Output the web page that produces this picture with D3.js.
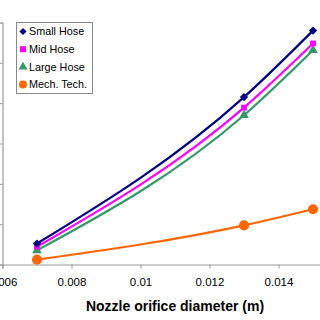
<!DOCTYPE html>
<html><head><meta charset="utf-8">
<script src="https://cdn.jsdelivr.net/npm/d3@7"></script>
<style>html,body{margin:0;padding:0;background:#fff;overflow:hidden}svg{display:block}</style>
</head><body>
<script>
const diameters = [0.007, 0.013, 0.015];
const seriesNames = ["Small Hose", "Mid Hose", "Large Hose", "Mech. Tech."];
const smallHose = [0.52, 4.15, 5.80];
const midHose = [0.44, 3.89, 5.48];
const largeHose = [0.35, 3.70, 5.31];
const mechTech = [0.12, 0.97, 1.37];
const xTicks = [0.006, 0.008, 0.01, 0.012, 0.014];
const yTicks = [0, 1, 2, 3, 4, 5, 6];
const colors = ["#000080", "#ff00ff", "#339966", "#ff6600"];
const symbols = [d3.symbolSquare, d3.symbolSquare, d3.symbolTriangle, d3.symbolCircle];
const rotations = [45, 0, 0, 0];
const symSizes = [34, 34, 40, 80];
const legSizes = [26, 36, 36, 50];
const allValues = [smallHose, midHose, largeHose, mechTech];

const W = 320, H = 320;
const svg = d3.select("body").append("svg").attr("width", W).attr("height", H);
const x = d3.scaleLinear().domain([0.006, 0.016]).range([2.5, 347.5]);
const y = d3.scaleLinear().domain([0, 6]).range([264.5, 22.5]);

// y axis
const yAxis = svg.append("g").attr("transform", `translate(${x(0.006)},0)`)
  .call(d3.axisLeft(y).tickValues(yTicks).tickSize(4).tickFormat(""));
yAxis.select(".domain").attr("stroke", "#9a9a9a").attr("stroke-width", 1.2);
yAxis.selectAll(".tick line").attr("stroke", "#9a9a9a");

// x axis
const xAxis = svg.append("g").attr("transform", `translate(0,${y(0)})`)
  .call(d3.axisBottom(x).tickValues(xTicks).tickSize(4).tickPadding(9)
    .tickFormat(d => d3.format("")(+d.toFixed(3))));
xAxis.select(".domain").attr("stroke", "#9a9a9a").attr("stroke-width", 1.2);
xAxis.selectAll(".tick line").attr("stroke", "#9a9a9a");
xAxis.selectAll("text").attr("font-family", "Liberation Sans, Arial, sans-serif")
  .attr("font-size", "11.5px").attr("fill", "#000");

svg.append("text").attr("x", 175).attr("y", 311).attr("text-anchor", "middle")
  .attr("font-family", "Liberation Sans, Arial, sans-serif").attr("font-weight", "bold")
  .attr("font-size", "14px").text("Nozzle orifice diameter (m)");

const line = d3.line().x((d, i) => x(diameters[i])).y(d => y(d)).curve(d3.curveMonotoneX);

// draw in reverse so Small Hose on top
[3, 2, 1, 0].forEach(k => {
  const vals = allValues[k];
  svg.append("path").datum(vals).attr("d", line).attr("fill", "none")
    .attr("stroke", colors[k]).attr("stroke-width", 2.2);
  svg.selectAll(null).data(vals).enter().append("path")
    .attr("d", d3.symbol().type(symbols[k]).size(symSizes[k]))
    .attr("transform", (d, i) => `translate(${x(diameters[i])},${y(d)}) rotate(${rotations[k]})`)
    .attr("fill", colors[k]);
});

// legend
const lg = svg.append("g");
lg.append("rect").attr("x", 16.5).attr("y", 22.5).attr("width", 76).attr("height", 71)
  .attr("fill", "#fff").attr("stroke", "#8a8a8a").attr("stroke-width", 1);
seriesNames.forEach((name, i) => {
  const cy = 31.5 + i * 17.7;
  lg.append("path").attr("d", d3.symbol().type(symbols[i]).size(legSizes[i]))
    .attr("transform", `translate(23,${cy}) rotate(${rotations[i]})`).attr("fill", colors[i]);
  lg.append("text").attr("x", 29).attr("y", cy + 3.8)
    .attr("font-family", "Liberation Sans, Arial, sans-serif").attr("font-size", "10.8px")
    .attr("fill", "#000").text(name);
});
</script>
</body></html>
